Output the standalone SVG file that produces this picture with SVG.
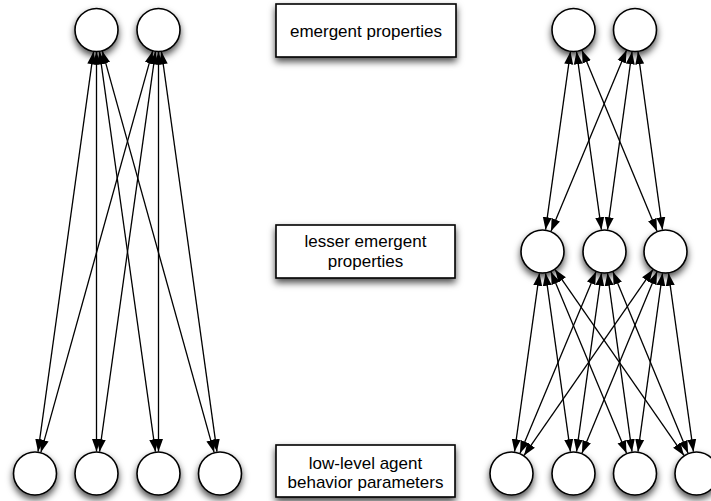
<svg xmlns="http://www.w3.org/2000/svg" width="711" height="501" viewBox="0 0 711 501">
<style>
.node{fill:#fff;stroke:#000;stroke-width:1.6;filter:url(#sh)}
.lbl{font-family:"Liberation Sans",Arial,sans-serif;font-size:17px;fill:#000;text-anchor:middle}
.edge line{stroke:#000;stroke-width:1.3;marker-start:url(#ah);marker-end:url(#ah)}
</style>
<defs>
<filter id="sh" x="-50%" y="-50%" width="200%" height="200%">
<feDropShadow dx="0" dy="4" stdDeviation="3.5" flood-color="#000" flood-opacity="0.7"/>
</filter>
<marker id="ah" markerUnits="userSpaceOnUse" markerWidth="14" markerHeight="11" refX="12.5" refY="5.5" orient="auto-start-reverse" viewBox="0 0 14 11">
<path d="M0,1 L12.5,5.5 L0,10 z" fill="#000"/>
</marker>
</defs>
<rect width="711" height="501" fill="#fff"/>

<g id="box-emergent"><rect class="node" x="276" y="4" width="180" height="53"/><text class="lbl" x="366" y="37">emergent properties</text></g>
<g id="box-lesser"><rect class="node" x="276" y="225" width="179" height="53"/><text class="lbl" x="365.5" y="247">lesser emergent</text><text class="lbl" x="365.5" y="267">properties</text></g>
<g id="box-low"><rect class="node" x="276" y="445" width="179" height="52"/><text class="lbl" x="365.5" y="469">low-level agent</text><text class="lbl" x="365.5" y="488">behavior parameters</text></g>

<g id="L-T1"><circle class="node" cx="96.5" cy="30" r="21.5"/></g>
<g id="L-T2"><circle class="node" cx="158.5" cy="30" r="21.5"/></g>
<g id="L-B1"><circle class="node" cx="35" cy="473.5" r="21.5"/></g>
<g id="L-B2"><circle class="node" cx="96.5" cy="473.5" r="21.5"/></g>
<g id="L-B3"><circle class="node" cx="158.5" cy="473.5" r="21.5"/></g>
<g id="L-B4"><circle class="node" cx="220" cy="473.5" r="21.5"/></g>

<g id="R-T1"><circle class="node" cx="573.5" cy="30" r="21.5"/></g>
<g id="R-T2"><circle class="node" cx="635" cy="30" r="21.5"/></g>
<g id="R-M1"><circle class="node" cx="542.5" cy="251.5" r="21.5"/></g>
<g id="R-M2"><circle class="node" cx="604.5" cy="251.5" r="21.5"/></g>
<g id="R-M3"><circle class="node" cx="665.5" cy="251.5" r="21.5"/></g>
<g id="R-B1"><circle class="node" cx="511.5" cy="473.5" r="21.5"/></g>
<g id="R-B2"><circle class="node" cx="573.5" cy="473.5" r="21.5"/></g>
<g id="R-B3"><circle class="node" cx="635" cy="473.5" r="21.5"/></g>
<g id="R-B4"><circle class="node" cx="696.5" cy="473.5" r="21.5"/></g>

<g id="connectors" class="edge">
<line x1="93.48" y1="51.79" x2="38.02" y2="451.71"/>
<line x1="96.5" y1="52" x2="96.5" y2="451.5"/>
<line x1="99.55" y1="51.79" x2="155.45" y2="451.71"/>
<line x1="102.40" y1="51.19" x2="214.10" y2="452.31"/>
<line x1="152.60" y1="51.19" x2="40.90" y2="452.31"/>
<line x1="155.45" y1="51.79" x2="99.55" y2="451.71"/>
<line x1="158.5" y1="52" x2="158.5" y2="451.5"/>
<line x1="161.52" y1="51.79" x2="216.98" y2="451.71"/>

<line x1="570.45" y1="51.79" x2="545.55" y2="229.71"/>
<line x1="576.55" y1="51.79" x2="601.45" y2="229.71"/>
<line x1="581.94" y1="50.32" x2="657.06" y2="231.18"/>
<line x1="626.52" y1="50.30" x2="550.98" y2="231.20"/>
<line x1="632.00" y1="51.79" x2="607.50" y2="229.71"/>
<line x1="638.00" y1="51.79" x2="662.50" y2="229.71"/>

<line x1="539.46" y1="273.29" x2="514.54" y2="451.71"/>
<line x1="545.54" y1="273.29" x2="570.46" y2="451.71"/>
<line x1="550.96" y1="271.81" x2="626.54" y2="453.19"/>
<line x1="555.04" y1="269.58" x2="683.96" y2="455.42"/>
<line x1="596.00" y1="271.79" x2="520.00" y2="453.21"/>
<line x1="601.46" y1="273.29" x2="576.54" y2="451.71"/>
<line x1="607.49" y1="273.30" x2="632.01" y2="451.70"/>
<line x1="612.92" y1="271.82" x2="688.08" y2="453.18"/>
<line x1="652.96" y1="269.58" x2="524.04" y2="455.42"/>
<line x1="657.08" y1="271.82" x2="581.92" y2="453.18"/>
<line x1="662.51" y1="273.30" x2="637.99" y2="451.70"/>
<line x1="668.54" y1="273.29" x2="693.46" y2="451.71"/>
</g>
</svg>
